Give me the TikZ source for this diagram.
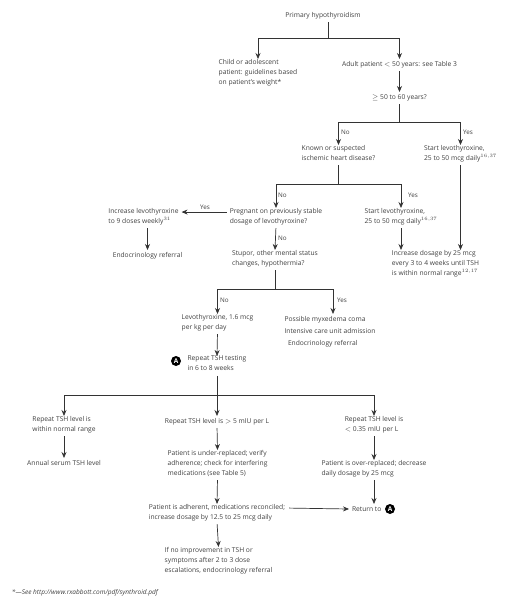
\documentclass[tikz,border=0pt]{standalone}
\usepackage{fontspec}
\setmainfont{Open Sans}
\usetikzlibrary{positioning,arrows.meta,calc}
\usepackage{xcolor}
\definecolor{txtgray}{gray}{0.25}

\begin{document}
\begin{tikzpicture}[x=1pt,y=-1pt,
  box/.style={font=\fontsize{6.7}{10}\selectfont,text=txtgray,align=left,anchor=north,inner sep=0pt,outer sep=0pt,
    execute at begin node=\strut,execute at end node=\strut},
  lab/.style={font=\fontsize{6.3}{8}\selectfont,text=txtgray,inner sep=0pt,anchor=west},
  badge/.style={circle,fill=black,text=white,inner sep=0pt,minimum size=10pt,font=\fontsize{6.5}{7}\bfseries\selectfont},
  sig/.style={-{Stealth[length=6pt,width=5pt]},shorten <=2pt,line width=0.7pt,black!80},
  stem/.style={line width=0.7pt,black!80,shorten <=2pt},
  rail/.style={line width=0.9pt,black!70}]
\useasboundingbox (0,0) rectangle (509,600);
% top of the tree
\node[box] (prim) at (323,10) {Primary hypothyroidism};
\node[box] (child) at (258,59) {Child or adolescent\\patient: guidelines based\\on patient's weight*};
\node[box] (adult) at (399.5,59) {Adult patient $<$ 50 years: see Table 3};
\node[box] (ask) at (399.5,92) {$\geq$ 50 to 60 years?};
\coordinate (j1) at (328,38);
\draw[stem] (prim.south -| j1) -- (j1);
\draw[rail,sig,shorten <=0pt] (j1) -| (child.north);
\draw[rail,sig,shorten <=0pt] (j1) -| (adult.north);
\draw[sig] (adult.south) -- (ask.north);
% age branch
\node[box] (known) at (338.5,145) {Known or suspected\\ischemic heart disease?};
\node[box] (start1) at (460.5,145) {Start levothyroxine,\\25 to 50 mcg daily$^{16,37}$};
\coordinate (j2) at (399.5,122);
\draw[stem] (ask.south) -- (j2);
\draw[rail,sig,shorten <=0pt] (j2) -| (known.north);
\draw[rail,sig,shorten <=0pt] (j2) -| (start1.north);
\node[lab] (no1) at (341,132) {No};
\node[lab] (yes1) at (463,132) {Yes};
% heart disease branch
\node[box] (preg) at (276,208) {Pregnant on previously stable\\dosage of levothyroxine?};
\node[box] (start2) at (401,208) {Start levothyroxine,\\25 to 50 mcg daily$^{16,37}$};
\coordinate (j3) at (338.5,184);
\draw[stem] (known.south) -- (j3);
\draw[rail,sig,shorten <=0pt] (j3) -| (preg.north);
\draw[rail,sig,shorten <=0pt] (j3) -| (start2.north);
\node[lab] (no2) at (278,195) {No};
\node[lab] (yes2) at (408,195) {Yes};
% pregnancy
\node[box] (nine) at (143.5,208) {Increase levothyroxine\\to 9 doses weekly$^{31}$};
\node[box] (endoa) at (147.5,250) {Endocrinology referral};
\node[box] (stup) at (275,250) {Stupor, other mental status\\changes, hypothermia?};
\node[box] (dose) at (435.5,250) {Increase dosage by 25 mcg\\every 3 to 4 weeks until TSH\\is within normal range$^{12,17}$};
\draw[sig] ($(preg.west)+(-1,-5)$) -- ($(nine.east)+(3,-5)$);
\node[lab] (yes3) at (200,207) {Yes};
\draw[sig] (nine.south -| endoa) -- (endoa.north);
\draw[sig] (preg.south) -- (stup.north);
\node[lab] (no3) at (278,238) {No};
\draw[sig] (start2.south) -- (dose.north -| start2);
\draw[sig] (start1.south) -- (dose.north -| start1);
% mental status
\node[box] (levo) at (217.5,314) {Levothyroxine, 1.6 mcg\\per kg per day};
\node[box] (coma) at (325,314) {Possible myxedema coma};
\node[box,below right=2pt and 0pt of coma.south west,anchor=north west] (icu) {Intensive care unit admission};
\node[box,anchor=north west] (endob) at (288,338) {Endocrinology referral};
\coordinate (j4) at (275,289);
\coordinate (comatop) at (333,314);
\draw[stem] (stup.south) -- (j4);
\draw[rail,sig,shorten <=0pt] (j4) -| (levo.north);
\draw[rail,sig,shorten <=0pt] (j4) -| (comatop);
\node[lab] (no4) at (220,300) {No};
\node[lab] (yes4) at (337,300) {Yes};
% repeat testing
\node[box] (rep) at (217,356) {Repeat TSH testing\\in 6 to 8 weeks};
\node[badge] (marka) at (176,361) {A};
\draw[sig] (levo.south) -- (rep.north);
% three results
\node[box] (low) at (64,416) {Repeat TSH level is\\within normal range};
\node[box] (mid) at (217,416) {Repeat TSH level is $>$ 5 mIU per L};
\node[box] (high) at (374,416) {Repeat TSH level is\\$<$ 0.35 mIU per L};
\coordinate (j5) at (217,395);
\draw[stem] (rep.south) -- (j5);
\draw[rail,sig,shorten <=0pt] (j5) -| (low.north);
\draw[rail,sig,shorten <=0pt] (j5) -- (mid.north);
\draw[rail,sig,shorten <=0pt] (j5) -| (high.north);
% left column
\node[box] (annual) at (64,458) {Annual serum TSH level};
\draw[sig] (low.south) -- (annual.north);
% middle column
\node[box] (under) at (217.5,450) {Patient is under-replaced; verify\\adherence; check for interfering\\medications (see Table 5)};
\node[box] (adher) at (217,504) {Patient is adherent, medications reconciled;\\increase dosage by 12.5 to 25 mcg daily};
\node[box] (noimp) at (218.5,547) {If no improvement in TSH or\\symptoms after 2 to 3 dose\\escalations, endocrinology referral};
\draw[sig] (mid.south) -- (under.north);
\draw[sig] (under.south) -- (adher.north);
\draw[sig] (adher.south) -- (noimp.north);
% right column
\node[box] (over) at (374,460) {Patient is over-replaced; decrease\\daily dosage by 25 mcg};
\node[box,anchor=north west] (ret) at (352,504) {Return to};
\node[badge] (markb) at (390,509) {A};
\draw[sig] (high.south) -- (over.north);
\draw[sig] (over.south) -- (ret.north -| over);
\draw[sig] ($(adher.east)+(2,-5)$) -- ($(ret.west)+(-3,0)$);
% footnote
\node[box,anchor=north west,font=\fontsize{6.5}{10}\itshape\selectfont] (foot) at (12,587) {*---See http://www.rxabbott.com/pdf/synthroid.pdf};
\end{tikzpicture}
\end{document}
